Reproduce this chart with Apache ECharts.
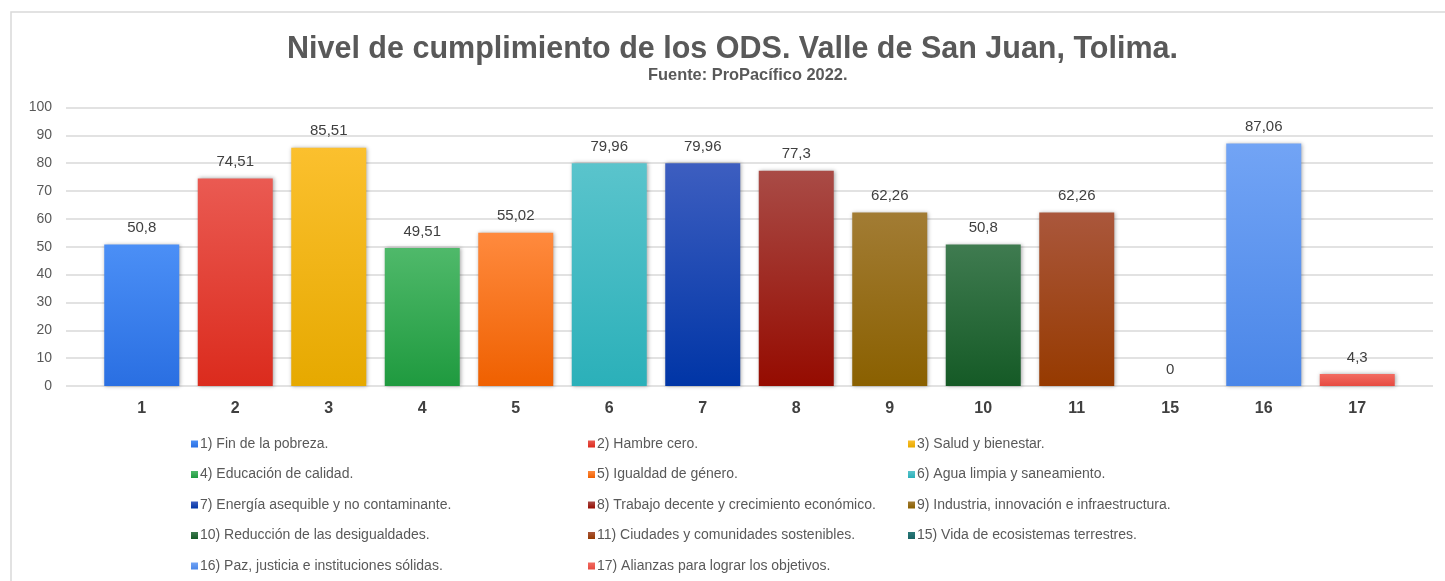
<!DOCTYPE html>
<html>
<head>
<meta charset="utf-8">
<script src="https://cdn.jsdelivr.net/npm/echarts@6/dist/echarts.min.js"></script>
<style>
  html, body { margin: 0; padding: 0; background: #fff; }
  #chart { width: 1445px; height: 581px; }
</style>
</head>
<body>
<div id="chart"></div>
<script>
// datos del grafico
var categorias = ['1', '2', '3', '4', '5', '6', '7', '8', '9', '10', '11', '15', '16', '17'];
var valores = [50.8, 74.51, 85.51, 49.51, 55.02, 79.96, 79.96, 77.3, 62.26, 50.8, 62.26, 0, 87.06, 4.3];
var nombres = [
    '1) Fin de la pobreza.',
    '2) Hambre cero.',
    '3) Salud y bienestar.',
    '4) Educación de calidad.',
    '5) Igualdad de género.',
    '6) Agua limpia y saneamiento.',
    '7) Energía asequible y no contaminante.',
    '8) Trabajo decente y crecimiento económico.',
    '9) Industria, innovación e infraestructura.',
    '10) Reducción de las desigualdades.',
    '11) Ciudades y comunidades sostenibles.',
    '15) Vida de ecosistemas terrestres.',
    '16) Paz, justicia e instituciones sólidas.',
    '17) Alianzas para lograr los objetivos.'
];
var ejeY = [0, 10, 20, 30, 40, 50, 60, 70, 80, 90, 100];

// colores (arriba claro, abajo oscuro)
var colores = [
    ['#4b8ff6', '#2a6fe2'],
    ['#ea5a52', '#db2b1d'],
    ['#fbc02e', '#e6a900'],
    ['#4fb96a', '#1f9a3f'],
    ['#ff8a3e', '#ef6000'],
    ['#5ac4cc', '#2bb0b9'],
    ['#3d5ec0', '#0035a6'],
    ['#a94b46', '#950b00'],
    ['#a27c34', '#8a6000'],
    ['#3f7b50', '#155a26'],
    ['#aa573c', '#963a00'],
    ['#2a7a7a', '#1a6464'],
    ['#72a4f5', '#4a86e8'],
    ['#f26c62', '#e64a40']
];

var myChart = echarts.init(document.getElementById('chart'));

var series = nombres.map(function(nombre, i) {
    return {
        name: nombre,
        type: 'bar',
        stack: 'ods',
        xAxisIndex: 1,
        yAxisIndex: 1,
        barWidth: 75,
        data: categorias.map(function(c, j) { return j === i ? valores[i] : '-'; }),
        itemStyle: {
            color: new echarts.graphic.LinearGradient(0, 0, 0, 1, [
                { offset: 0, color: colores[i][0] },
                { offset: 1, color: colores[i][1] }
            ]),
            shadowColor: 'rgba(0,0,0,0.35)',
            shadowBlur: 4,
            shadowOffsetX: 1
        },
        label: {
            show: true,
            position: 'top',
            distance: 9,
            color: '#404040',
            fontSize: 15,
            fontFamily: 'Liberation Sans',
            formatter: function(p) { return String(p.value).replace('.', ','); }
        }
    };
});

// tres columnas de leyenda
function columna(idx) {
    return idx.map(function(k) { return nombres[k]; });
}
var leyendaBase = {
    orient: 'vertical',
    top: 432,
    itemWidth: 7,
    itemHeight: 7,
    itemGap: 16.5,
    icon: 'rect',
    selectedMode: false,
    textStyle: { color: '#595959', fontSize: 14, fontFamily: 'Liberation Sans', padding: [0, 0, 0, -3] }
};

var option = {
    backgroundColor: '#ffffff',
    animation: false,
    title: [{
        text: 'Nivel de cumplimiento de los ODS. Valle de San Juan, Tolima.',
        left: 282,
        top: 29,
        textStyle: { color: '#595959', fontSize: 30.5, fontWeight: 'bold', fontFamily: 'Liberation Sans' }
    }, {
        text: 'Fuente: ProPacífico 2022.',
        left: 643,
        top: 62,
        textStyle: { color: '#595959', fontSize: 16.4, fontWeight: 'bold', fontFamily: 'Liberation Sans' }
    }],
    legend: [
        Object.assign({}, leyendaBase, { left: 186, data: columna([0, 3, 6, 9, 12]) }),
        Object.assign({}, leyendaBase, { left: 583, data: columna([1, 4, 7, 10, 13]) }),
        Object.assign({}, leyendaBase, { left: 903, data: columna([2, 5, 8, 11]) })
    ],
    grid: [
        { left: 66, right: 12, top: 107.5, bottom: 195 },
        { left: 95, right: 41, top: 107.5, bottom: 195 }
    ],
    xAxis: [{
        gridIndex: 0,
        type: 'category',
        show: false,
        data: categorias
    }, {
        gridIndex: 1,
        type: 'category',
        data: categorias,
        axisLine: { show: false },
        axisTick: { show: false },
        axisLabel: { color: '#404040', fontSize: 16, fontWeight: 'bold', fontFamily: 'Liberation Sans', margin: 15 }
    }],
    yAxis: [{
        gridIndex: 0,
        type: 'value',
        min: ejeY[0],
        max: ejeY[ejeY.length - 1],
        interval: 10,
        axisLine: { show: false },
        axisTick: { show: false },
        axisLabel: { color: '#595959', fontSize: 14, fontFamily: 'Liberation Sans', margin: 14 },
        splitLine: { lineStyle: { color: '#d9d9d9', width: 1.5 } }
    }, {
        gridIndex: 1,
        type: 'value',
        min: ejeY[0],
        max: ejeY[ejeY.length - 1],
        interval: 10,
        show: false,
        splitLine: { show: false }
    }],
    graphic: [{
        type: 'polyline',
        shape: { points: [[11, 581], [11, 12], [1445, 12]] },
        style: { stroke: '#d9d9d9', lineWidth: 1.5, fill: null },
        silent: true
    }],
    series: series
};

myChart.setOption(option);
</script>
</body>
</html>
